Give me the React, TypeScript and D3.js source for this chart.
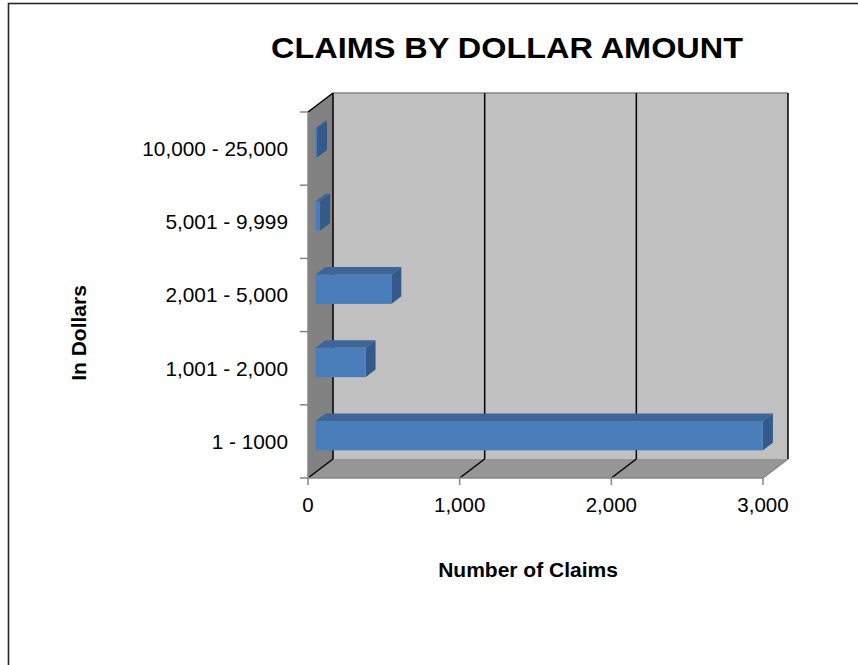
import React from 'react';
import * as d3 from 'd3';

// Chart values
const categories = ['1 - 1000', '1,001 - 2,000', '2,001 - 5,000', '5,001 - 9,999', '10,000 - 25,000'];
const claimCounts = [2950, 330, 500, 30, 10];
const xTicks = [0, 1000, 2000, 3000];

const W = 858;
const H = 665;
const FONT = 'Arial, "Liberation Sans", Helvetica, sans-serif';

// 3D depth offset of the plot box
const DX = 25;
const DY = -19;
// bars sit between these depth fractions
const BAR_FRONT = 0.3;
const BAR_BACK = 0.7;

const COLORS = {
  backWall: '#C0C0C0',
  sideWall: '#828282',
  floor: '#969696',
  grid: '#000000',
  axis: '#868686',
  barFront: '#4A7EBB',
  barTop: '#3D6595',
  barSide: '#335A89',
};

const pts = (p: [number, number][]) => p.map((d) => d.join(',')).join(' ');

export default function App() {
  const x = d3.scaleLinear().domain([0, 3000]).range([308, 763]);
  // top to bottom: last category first
  const y = d3
    .scaleBand<string>()
    .domain([...categories].reverse())
    .range([112, 478])
    .padding(0);

  const x0 = x(0);
  const x1 = x(3000);
  const yTop = 112;
  const yBot = 478;
  const bw = y.bandwidth();
  const barH = bw * 0.4;

  const bandEdges = [...y.domain().map((c) => y(c) as number), yBot];

  return (
    <svg
      width={W}
      height={H}
      style={{ position: 'absolute', left: 0, top: 0, background: '#fff' }}
      fontFamily={FONT}
    >
      {/* chart frame, cut by the page edge */}
      <rect x={8.5} y={3.5} width={W + 20} height={H + 20} fill="#fff" stroke="#262626" strokeWidth={1.6} />

      {/* title */}
      <text x={507} y={57.5} textAnchor="middle" fontSize={30} fontWeight="bold" textLength={472} lengthAdjust="spacingAndGlyphs">
        CLAIMS BY DOLLAR AMOUNT
      </text>

      {/* back wall */}
      <rect x={x0 + DX} y={yTop + DY} width={x1 - x0} height={yBot - yTop} fill={COLORS.backWall} />
      {/* left wall */}
      <polygon
        points={pts([
          [x0, yTop],
          [x0 + DX, yTop + DY],
          [x0 + DX, yBot + DY],
          [x0, yBot],
        ])}
        fill={COLORS.sideWall}
      />
      {/* floor */}
      <polygon
        points={pts([
          [x0, yBot],
          [x1, yBot],
          [x1 + DX, yBot + DY],
          [x0 + DX, yBot + DY],
        ])}
        fill={COLORS.floor}
      />

      {/* back wall top edge and floor right edge */}
      <line x1={x0 + DX} x2={x1 + DX} y1={yTop + DY} y2={yTop + DY} stroke={COLORS.axis} strokeWidth={1.5} />
      <line x1={x1} y1={yBot} x2={x1 + DX} y2={yBot + DY} stroke={COLORS.axis} strokeWidth={1.5} />

      {/* gridlines on back wall and floor */}
      {xTicks.map((t) => (
        <g key={t}>
          <line x1={x(t) + DX} x2={x(t) + DX} y1={yTop + DY} y2={yBot + DY} stroke={COLORS.grid} strokeWidth={1.5} />
          {t < 3000 && (
            <line x1={x(t)} y1={yBot} x2={x(t) + DX} y2={yBot + DY} stroke={COLORS.grid} strokeWidth={1.5} />
          )}
        </g>
      ))}
      {/* left wall top edge */}
      <line x1={x0} y1={yTop} x2={x0 + DX} y2={yTop + DY} stroke={COLORS.grid} strokeWidth={1.5} />

      {/* axes */}
      <line x1={x0} x2={x0} y1={yTop} y2={yBot} stroke={COLORS.axis} strokeWidth={1.5} />
      <line x1={x0} x2={x1} y1={yBot} y2={yBot} stroke={COLORS.axis} strokeWidth={1.5} />
      {bandEdges.map((e, i) => (
        <line key={i} x1={x0 - 8} x2={x0} y1={e} y2={e} stroke={COLORS.axis} strokeWidth={1.5} />
      ))}
      {xTicks.map((t) => (
        <line key={t} x1={x(t)} x2={x(t)} y1={yBot} y2={yBot + 7} stroke={COLORS.axis} strokeWidth={1.5} />
      ))}

      {/* bars */}
      {categories.map((c, i) => {
        const v = claimCounts[i];
        const fx = BAR_FRONT * DX;
        const fy = BAR_FRONT * DY;
        const bx = BAR_BACK * DX;
        const by = BAR_BACK * DY;
        const top = (y(c) as number) + (bw - barH) / 2;
        const bot = top + barH;
        const xl = x(0);
        const xr = x(v);
        return (
          <g key={c}>
            <polygon
              points={pts([
                [xl + fx, top + fy],
                [xr + fx, top + fy],
                [xr + bx, top + by],
                [xl + bx, top + by],
              ])}
              fill={COLORS.barTop}
            />
            <polygon
              points={pts([
                [xr + fx, top + fy],
                [xr + bx, top + by],
                [xr + bx, bot + by],
                [xr + fx, bot + fy],
              ])}
              fill={COLORS.barSide}
            />
            <rect x={xl + fx} y={top + fy} width={xr - xl} height={barH} fill={COLORS.barFront} />
          </g>
        );
      })}

      {/* category labels */}
      {categories.map((c) => (
        <text key={c} x={288} y={(y(c) as number) + bw / 2} dy="0.36em" textAnchor="end" fontSize={20.8}>
          {c}
        </text>
      ))}

      {/* x tick labels */}
      {xTicks.map((t) => (
        <text key={t} x={x(t)} y={512} textAnchor="middle" fontSize={20.5}>
          {d3.format(',')(t)}
        </text>
      ))}

      {/* axis titles */}
      <text x={528} y={577} textAnchor="middle" fontSize={21} fontWeight="bold">
        Number of Claims
      </text>
      <text transform="translate(86,333) rotate(-90)" textAnchor="middle" fontSize={21} fontWeight="bold">
        In Dollars
      </text>
    </svg>
  );
}
